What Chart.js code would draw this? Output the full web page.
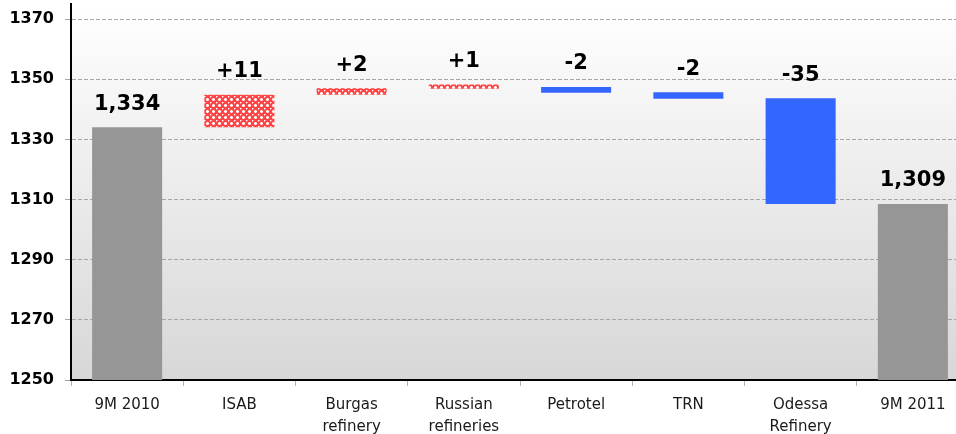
<!DOCTYPE html>
<html>
<head>
<meta charset="utf-8">
<script src="https://cdn.jsdelivr.net/npm/chart.js@4.4.0/dist/chart.umd.min.js"></script>
<style>
    html, body { margin: 0; padding: 0; background: #fff; overflow: hidden; }
    #wrap { width: 969px; height: 434px; }
</style>
</head>
<body>
<div id="wrap"><canvas id="chart" width="969" height="434"></canvas></div>
<script>
// Waterfall: throughput change 9M 2010 -> 9M 2011
const categories = ['9M 2010', 'ISAB', ['Burgas', 'refinery'], ['Russian', 'refineries'], 'Petrotel', 'TRN', ['Odessa', 'Refinery'], '9M 2011'];
const barStarts = [1250, 1334, 1344.8, 1346.8, 1347.4, 1345.7, 1343.7, 1250];
const barEnds = [1334, 1344.8, 1347, 1348.2, 1345.5, 1343.5, 1308.5, 1308.5];
const valueLabels = ['1,334', '+11', '+2', '+1', '-2', '-2', '-35', '1,309'];
const barKinds = ['total', 'up', 'up', 'up', 'down', 'down', 'down', 'total'];
const yTicks = [1250, 1270, 1290, 1310, 1330, 1350, 1370];

// Red cross-hatch fill for the positive steps
const makeHatch = () => {
    const tile = document.createElement('canvas');
    tile.width = 6;
    tile.height = 6;
    const t = tile.getContext('2d');
    t.fillStyle = '#ff4545';
    t.fillRect(0, 0, 6, 6);
    t.fillStyle = '#ffffff';
    [[3, 2], [2, 3], [3, 3], [4, 3], [3, 4], [0, 0]].forEach(([x, y]) => t.fillRect(x, y, 1, 1));
    t.fillStyle = '#ffa0a0';
    [[2, 2], [4, 2], [2, 4], [4, 4], [1, 0], [0, 1]].forEach(([x, y]) => t.fillRect(x, y, 1, 1));
    return t.createPattern(tile, 'repeat');
};

const hatch = makeHatch();
const kindColor = { total: '#969696', up: hatch, down: '#3366ff' };

// Gradient behind the plot area
const plotBackground = {
    id: 'plotBackground',
    beforeDraw(chart) {
        const { ctx, chartArea: a } = chart;
        const g = ctx.createLinearGradient(0, a.top, 0, a.bottom);
        g.addColorStop(0, '#ffffff');
        g.addColorStop(1, '#d7d7d7');
        ctx.save();
        ctx.fillStyle = g;
        ctx.fillRect(a.left, a.top, a.right - a.left, a.bottom - a.top);
        ctx.restore();
    }
};

// Bold value above every bar
const valueLabelPlugin = {
    id: 'valueLabels',
    afterDatasetsDraw(chart) {
        const { ctx } = chart;
        const meta = chart.getDatasetMeta(0);
        ctx.save();
        ctx.font = 'bold 21px "DejaVu Sans"';
        ctx.fillStyle = '#000';
        ctx.textAlign = 'center';
        ctx.textBaseline = 'middle';
        meta.data.forEach((bar, i) => {
            const top = Math.min(bar.y, bar.base);
            ctx.fillText(valueLabels[i], bar.x, top - 23);
        });
        ctx.restore();
    }
};

new Chart(document.getElementById('chart'), {
    type: 'bar',
    data: {
        labels: categories,
        datasets: [{
            data: barStarts.map((s, i) => [s, barEnds[i]]),
            backgroundColor: barKinds.map(k => kindColor[k]),
            borderWidth: 0,
            categoryPercentage: 1,
            barPercentage: 0.624
        }]
    },
    options: {
        responsive: false,
        animation: false,
        layout: { padding: { top: 4, left: 0, right: 0, bottom: 0 } },
        plugins: {
            legend: { display: false },
            tooltip: { enabled: false }
        },
        scales: {
            x: {
                grid: {
                    offset: true,
                    drawOnChartArea: false,
                    drawTicks: true,
                    tickLength: 6,
                    tickColor: '#b0b0b0'
                },
                border: { display: true, color: '#000', width: 2 },
                ticks: {
                    color: '#1a1a1a',
                    font: { family: 'DejaVu Sans', size: 15, lineHeight: 1.45 },
                    padding: 8,
                    maxRotation: 0,
                    autoSkip: false
                },
                afterFit: scale => { scale.height = 54; }
            },
            y: {
                min: 1250,
                max: 1375,
                afterBuildTicks: scale => { scale.ticks = yTicks.map(v => ({ value: v })); },
                grid: {
                    color: '#a6a6a6',
                    lineWidth: 1,
                    drawTicks: true,
                    tickLength: 6,
                    tickColor: '#a6a6a6'
                },
                border: { display: true, color: '#000', width: 2, dash: [4, 2] },
                ticks: {
                    color: '#000',
                    font: { family: 'DejaVu Sans', size: 16, weight: 'bold' },
                    padding: 11,
                    callback: v => String(v)
                },
                afterFit: scale => {
                    scale.width = 71;
                    scale.paddingTop = 0;
                    scale.paddingBottom = 0;
                }
            }
        }
    },
    plugins: [plotBackground, valueLabelPlugin]
});
</script>
</body>
</html>
